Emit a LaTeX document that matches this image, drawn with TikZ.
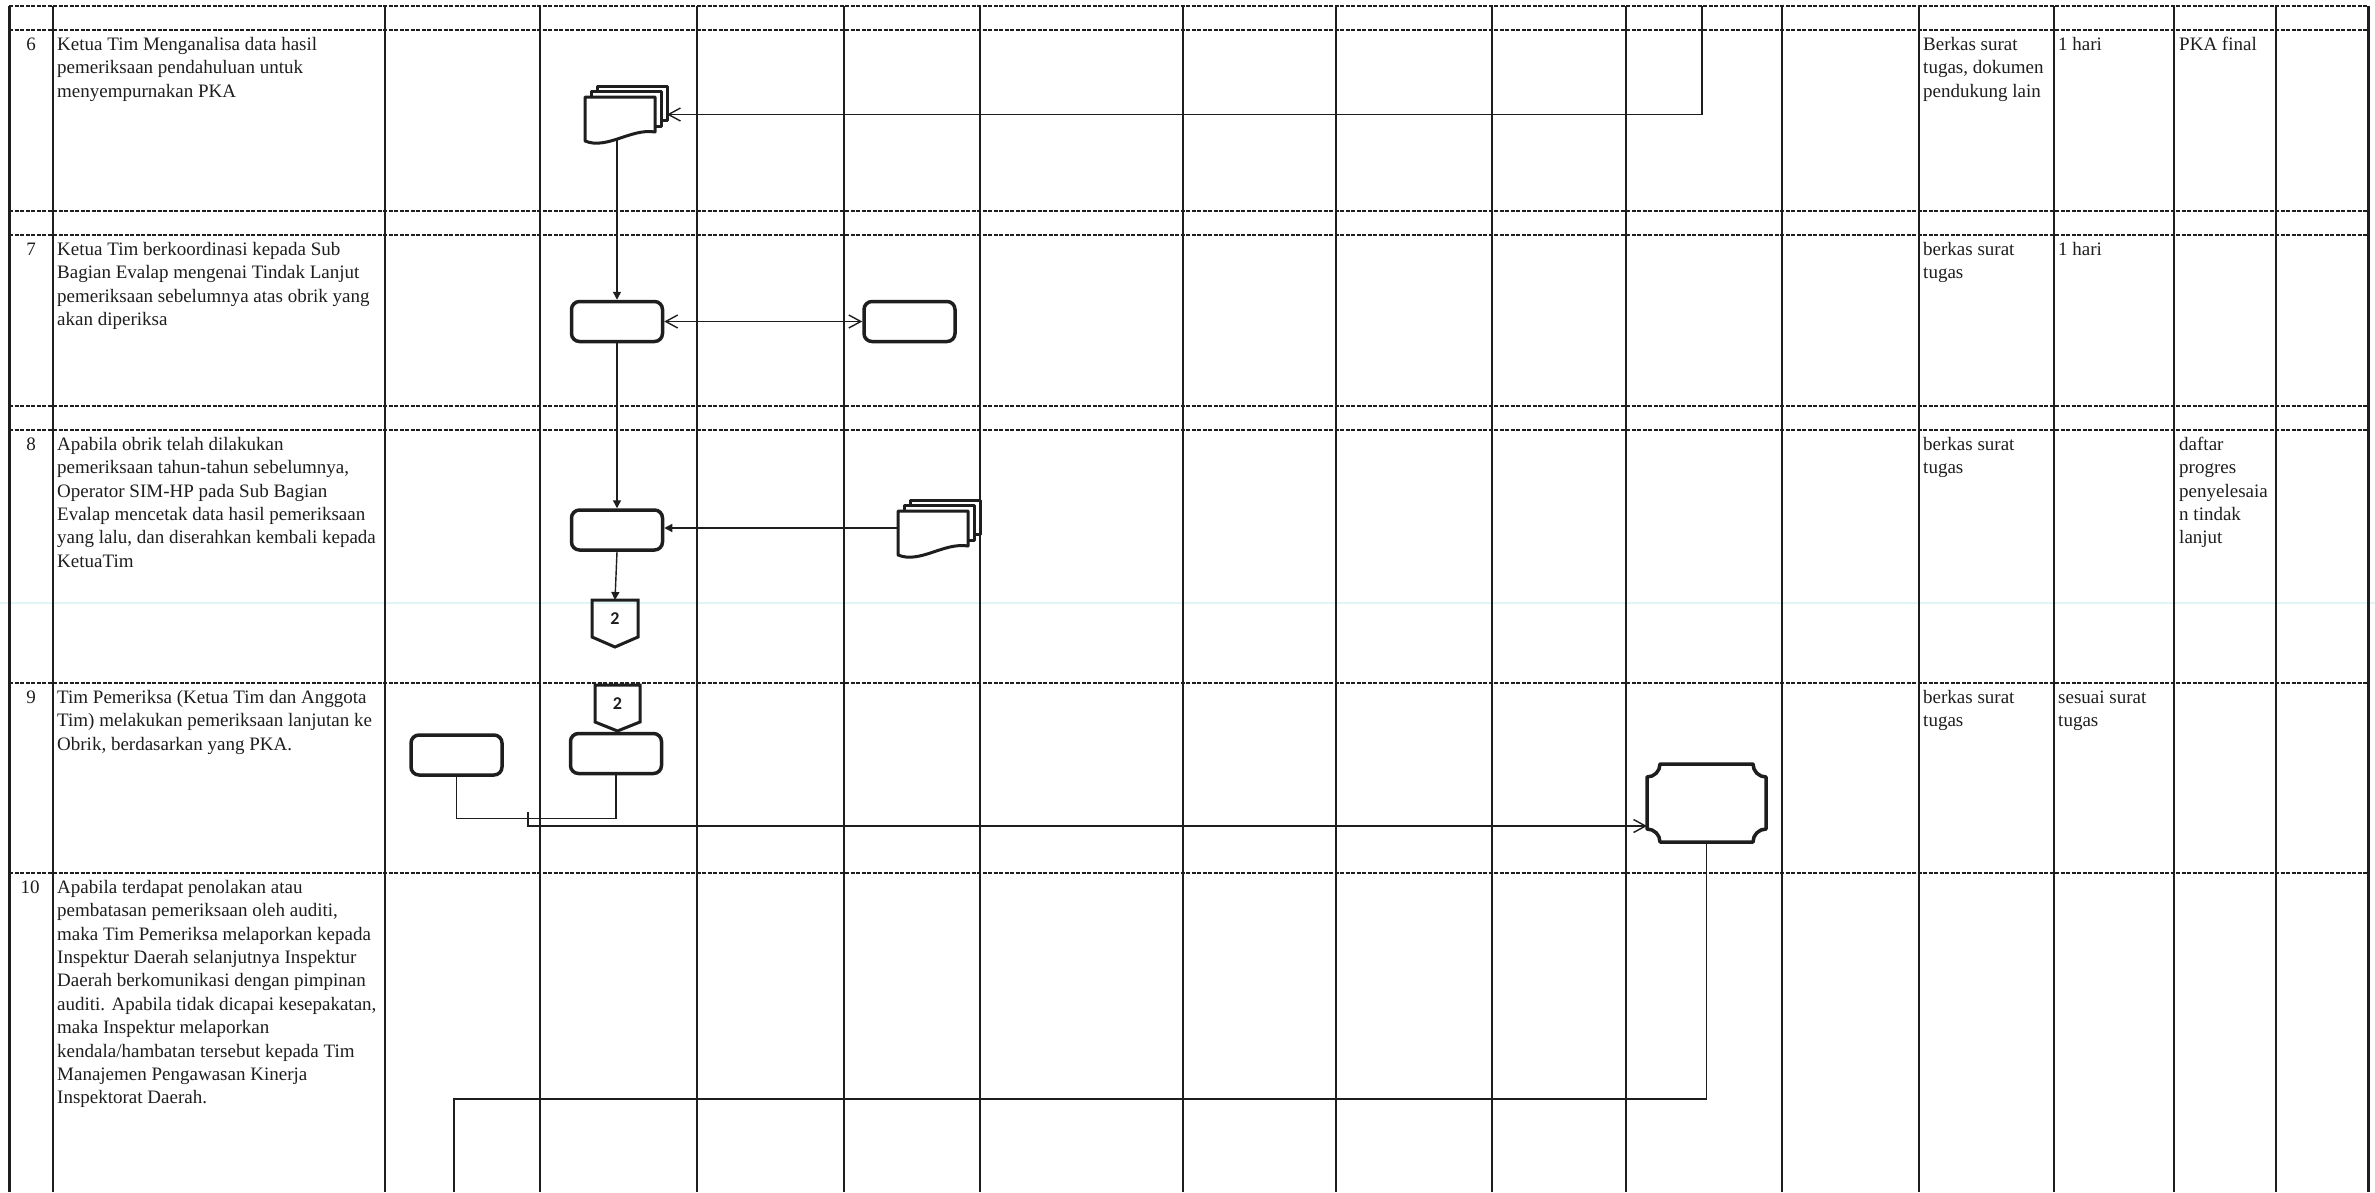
\documentclass[tikz,border=0pt]{standalone}
\usepackage{fontspec}
\setmainfont{Liberation Serif}
\newfontfamily\numfont{Carlito}
\usetikzlibrary{arrows.meta,calc}
\definecolor{ink}{RGB}{30,30,30}
\definecolor{scancol}{RGB}{224,245,245}
\newcommand\firststrut{\rule{0pt}{14pt}}
\newcommand\mydocstack[1]{%
  \begin{scope}[shift={(#1.north west)}]
    \filldraw[docline] (12,0) rectangle (82,34);
    \filldraw[docline] (6,5) rectangle (76,40);
    \filldraw[docline] (0,11) -- (70,11) -- (70,46) .. controls (46,42) and (22,64) .. (0,55) -- cycle;
  \end{scope}}
\tikzset{
  colline/.style={draw=ink, line width=1.5pt},
  frameline/.style={draw=ink, line width=3pt},
  sepline/.style={draw=ink, line width=2pt, dash pattern=on 4pt off 1.5pt},
  scanmark/.style={draw=scancol, line width=2.5pt},
  conn/.style={draw=ink, line width=1.4pt},
  openhead/.style={-{Straight Barb[length=12pt,width=13pt]}},
  openboth/.style={{Straight Barb[length=12pt,width=13pt]}-{Straight Barb[length=12pt,width=13pt]}},
  fillhead/.style={-{Triangle[length=8pt,width=8pt]}},
  proc/.style={rectangle, rounded corners=8pt, draw=ink, line width=3.5pt, fill=white,
    minimum width=91pt, minimum height=40pt, inner sep=0pt},
  holder/.style={inner sep=0pt, outer sep=0pt, draw=none},
  docline/.style={draw=ink, fill=white, line width=3pt, line join=round},
  shapeline/.style={draw=ink, line width=3.5pt, line join=round},
  offline/.style={draw=ink, line width=3pt, line join=miter},
  numtxt/.style={inner sep=0pt, text=ink, font=\numfont\bfseries\fontsize{18}{20}\selectfont},
  desc/.style={anchor=north west, align=left, inner sep=0pt, text=ink,
    font=\fontsize{19}{23.4}\selectfont},
  rownum/.style={anchor=base, inner sep=0pt, text=ink, font=\fontsize{19}{23.4}\selectfont}
}
\begin{document}
\begin{tikzpicture}[x=1pt,y=-1pt]
\fill[white] (0,0) rectangle (2375,1192);
\useasboundingbox (0,0) rectangle (2375,1192);
% scan artefact line
\draw[scanmark] (0,603) -- (2375,603);
% grid
\foreach \xx in {53,385,540,697,844,980,1183,1336,1492,1626,1782,1919,2054,2174,2276}
  \draw[colline] (\xx,6) -- (\xx,1192);
\draw[frameline] (9,6) -- (9,1192);
\draw[frameline] (2368,6) -- (2368,1192);
\foreach \yy in {6,30,211,235,406,430,683,873}
  \draw[sepline] (9,\yy) -- (2368,\yy);

% ---------- shapes ----------
\node[holder, minimum width=82pt, minimum height=57pt] (doc6) at (626,114.5) {};
\mydocstack{doc6}
\coordinate (doc6b) at ($(doc6.north west)+(32,53)$);

\node[proc] (box7a) at (617,321.5) {};
\node[proc] (box7b) at (909.5,321.5) {};
\node[proc] (box8) at (617,530) {};

\node[holder, minimum width=82pt, minimum height=56pt] (doc8) at (939,528) {};
\mydocstack{doc8}

\node[holder, minimum width=46pt, minimum height=37pt] (c8) at (615,618.5) {};
\draw[offline] (c8.north west) -- (c8.north east) -- (c8.south east) -- ([yshift=-10pt]c8.south) -- (c8.south west) -- cycle;
\node[numtxt] (c8t) at (c8.center) {2};

\node[holder, minimum width=45pt, minimum height=37pt] (c9) at (617.5,703.5) {};
\draw[offline] (c9.north west) -- (c9.north east) -- (c9.south east) -- ([yshift=-9pt]c9.south) -- (c9.south west) -- cycle;
\node[numtxt] (c9t) at (c9.center) {2};

\node[proc] (box9R) at (616,753.5) {};
\node[proc] (box9L) at (456.5,755) {};

\node[holder, minimum width=119pt, minimum height=78pt] (oct) at (1706.5,803) {};
\draw[shapeline] (1660,764) -- (1753,764) .. controls (1753,771.2) and (1758.8,777) .. (1766,777)
  -- (1766,829) .. controls (1758.8,829) and (1753,834.8) .. (1753,842)
  -- (1660,842) .. controls (1660,834.8) and (1654.2,829) .. (1647,829)
  -- (1647,777) .. controls (1654.2,777) and (1660,771.2) .. (1660,764) -- cycle;

% ---------- connectors ----------
\coordinate (topin) at (1702,6);
\draw[conn, openhead] (topin) |- (doc6.east);
\draw[conn, fillhead] (box7a.north |- doc6b) -- (box7a.north);
\draw[conn, openboth] (box7a.east) -- (box7b.west);
\draw[conn, fillhead] (box7a.south) -- (box8.north);
\draw[conn, fillhead] (doc8.west) -- (doc8.west -| box8.east);
\draw[conn, fillhead] (box8.south) -- (c8.north);
\draw[conn] (box9L.south) -- ++(0,42) -| (box9R.south);
\coordinate (j1) at (528,812);
\coordinate (j2) at (528,826);
\draw[conn, openhead] (j1) -- (j2) -- (j2 -| oct.west);
\coordinate (bendB) at (454,1099);
\coordinate (exitB) at (454,1192);
\draw[conn] (oct.south) |- (bendB) -- (exitB);

% ---------- row numbers ----------
\node[rownum] (n6) at (31,50) {6};
\node[rownum] (n7) at (31,255) {7};
\node[rownum] (n8) at (31,450) {8};
\node[rownum] (n9) at (31,703) {9};
\node[rownum] (n10) at (30,893) {10};

% ---------- activity texts ----------
\node[desc] (d6) at (57,36) {\firststrut Ketua Tim Menganalisa data hasil\\pemeriksaan pendahuluan untuk\\menyempurnakan PKA};
\node[desc] (d7) at (57,241) {\firststrut Ketua Tim berkoordinasi kepada Sub\\Bagian Evalap mengenai Tindak Lanjut\\pemeriksaan sebelumnya atas obrik yang\\akan diperiksa};
\node[desc] (d8) at (57,436) {\firststrut Apabila obrik telah dilakukan\\pemeriksaan tahun-tahun sebelumnya,\\Operator SIM-HP pada Sub Bagian\\Evalap mencetak data hasil pemeriksaan\\yang lalu, dan diserahkan kembali kepada\\KetuaTim};
\node[desc] (d9) at (57,689) {\firststrut Tim Pemeriksa (Ketua Tim dan Anggota\\Tim) melakukan pemeriksaan lanjutan ke\\Obrik, berdasarkan yang PKA.};
\node[desc] (d10) at (57,879) {\firststrut Apabila terdapat penolakan atau\\pembatasan pemeriksaan oleh auditi,\\maka Tim Pemeriksa melaporkan kepada\\Inspektur Daerah selanjutnya Inspektur\\Daerah berkomunikasi dengan pimpinan\\auditi. Apabila tidak dicapai kesepakatan,\\maka Inspektur melaporkan\\kendala/hambatan tersebut kepada Tim\\Manajemen Pengawasan Kinerja\\Inspektorat Daerah.};

% ---------- right columns ----------
\node[desc] (k6) at (1923,36) {\firststrut Berkas surat\\tugas, dokumen\\pendukung lain};
\node[desc] (w6) at (2058,36) {\firststrut 1 hari};
\node[desc] (o6) at (2179,36) {\firststrut PKA final};
\node[desc] (k7) at (1923,241) {\firststrut berkas surat\\tugas};
\node[desc] (w7) at (2058,241) {\firststrut 1 hari};
\node[desc] (k8) at (1923,436) {\firststrut berkas surat\\tugas};
\node[desc] (o8) at (2179,436) {\firststrut daftar\\progres\\penyelesaia\\n tindak\\lanjut};
\node[desc] (k9) at (1923,689) {\firststrut berkas surat\\tugas};
\node[desc] (w9) at (2058,689) {\firststrut sesuai surat\\tugas};
\end{tikzpicture}
\end{document}
